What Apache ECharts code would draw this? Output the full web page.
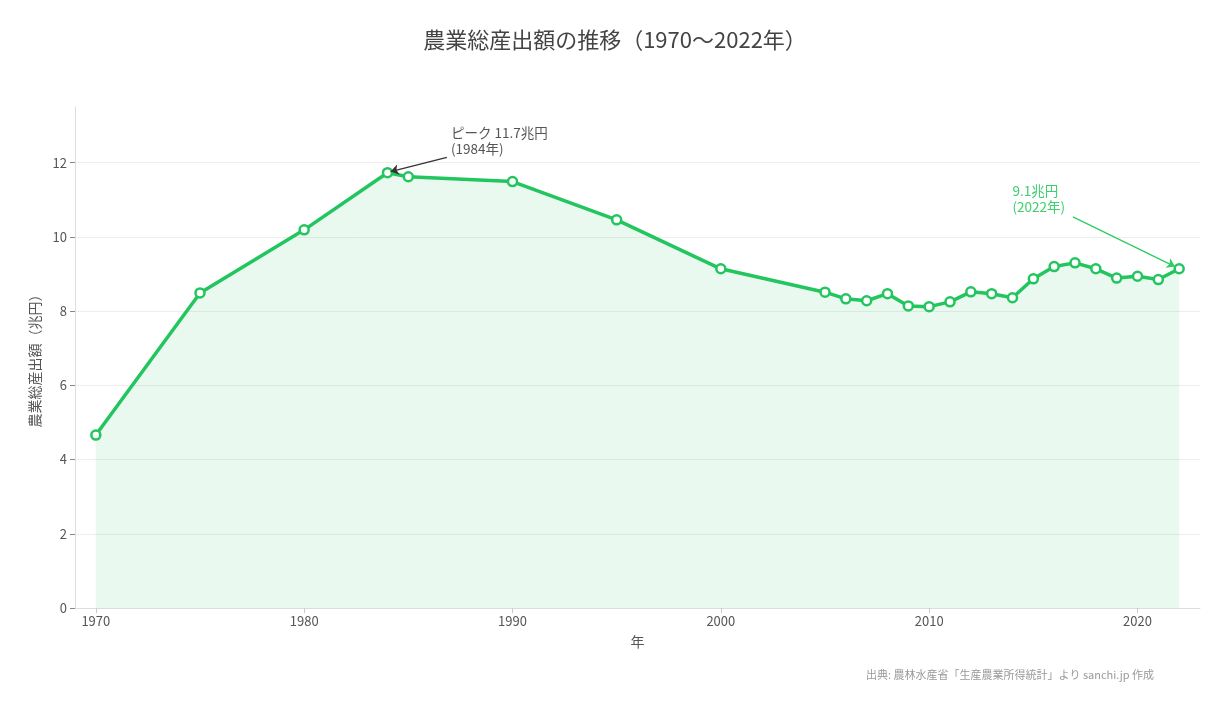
<!DOCTYPE html>
<html>
<head>
<meta charset="utf-8">
<script src="https://cdn.jsdelivr.net/npm/echarts@6/dist/echarts.min.js"></script>
<style>
  html, body { margin: 0; padding: 0; background: #fff; }
  #chart { width: 1230px; height: 710px; }
</style>
</head>
<body>
<div id="chart"></div>
<script>
// 年
var years = [1970, 1975, 1980, 1984, 1985, 1990, 1995, 2000,
    2005, 2006, 2007, 2008, 2009, 2010, 2011, 2012, 2013, 2014,
    2015, 2016, 2017, 2018, 2019, 2020, 2021, 2022];
// 農業総産出額（兆円）
var outputs = [4.66, 8.49, 10.19, 11.73, 11.62, 11.49, 10.46, 9.14,
    8.51, 8.33, 8.28, 8.47, 8.14, 8.12, 8.25, 8.52, 8.47, 8.36,
    8.87, 9.20, 9.30, 9.14, 8.89, 8.94, 8.85, 9.14];
// 目盛り
var xTicks = [1970, 1980, 1990, 2000, 2010, 2020];
var yTicks = [0, 2, 4, 6, 8, 10, 12];

var FONT = '"Noto Sans CJK JP", "Noto Sans", sans-serif';
var GREEN = '#22c55e';

var seriesData = years.map(function (y, i) { return [y, outputs[i]]; });

var option = {
    backgroundColor: '#fff',
    textStyle: { fontFamily: FONT },
    title: {
        text: '農業総産出額の推移（1970〜2022年）',
        left: 'center',
        top: 24,
        textStyle: { fontSize: 22, fontWeight: 'normal', color: '#444', fontFamily: FONT }
    },
    grid: { left: 75, right: 30, top: 107, bottom: 102 },
    xAxis: {
        type: 'value',
        min: 1969,
        max: 2023,
        name: '年',
        nameLocation: 'middle',
        nameGap: 27,
        nameTextStyle: { fontSize: 14, color: '#555' },
        axisLine: { show: true, lineStyle: { color: '#ddd' } },
        axisTick: { show: true, customValues: xTicks, length: 5, lineStyle: { color: '#ccc' } },
        axisLabel: {
            customValues: xTicks, color: '#555', fontSize: 13, margin: 7,
            formatter: function (v) { return String(v); }
        },
        splitLine: { show: false }
    },
    yAxis: {
        type: 'value',
        min: 0,
        max: 13.5,
        name: '農業総産出額（兆円）',
        nameLocation: 'middle',
        nameGap: 32,
        nameTextStyle: { fontSize: 14, color: '#555' },
        axisLine: { show: true, lineStyle: { color: '#ddd' } },
        axisTick: { show: true, customValues: yTicks, length: 5, lineStyle: { color: '#888' } },
        axisLabel: { customValues: yTicks, color: '#555', fontSize: 13, margin: 8 },
        splitLine: { show: true, lineStyle: { color: '#eee' } }
    },
    graphic: [{
        type: 'text',
        right: 76,
        bottom: 30,
        style: {
            text: '出典: 農林水産省「生産農業所得統計」より sanchi.jp 作成',
            fill: '#999',
            font: '11px ' + FONT
        }
    }],
    series: [{
        type: 'line',
        data: seriesData,
        symbol: 'circle',
        symbolSize: 9,
        showAllSymbol: true,
        lineStyle: { color: GREEN, width: 3.5 },
        itemStyle: { color: '#fff', borderColor: GREEN, borderWidth: 2.5 },
        areaStyle: { color: 'rgba(34,197,94,0.14)' },
        z: 3,
        markLine: {
            silent: true,
            symbol: ['none', 'arrow'],
            symbolSize: 8,
            label: { show: false },
            data: [
                [{ coord: [1986.85, 12.14], lineStyle: { color: '#333', width: 1.3, type: 'solid' } },
                 { coord: [1984.15, 11.76] }],
                [{ coord: [2016.9, 10.54], lineStyle: { color: '#2ecc62', width: 1.3, type: 'solid' } },
                 { coord: [2021.8, 9.2] }]
            ]
        },
        markPoint: {
            silent: true,
            symbol: 'circle',
            symbolSize: 0,
            data: [{
                coord: [1987.05, 13.03],
                label: {
                    show: true, position: [0, 0], align: 'left', verticalAlign: 'top',
                    formatter: 'ピーク 11.7兆円\n(1984年)', color: '#555', fontSize: 13.5, lineHeight: 16
                }
            }, {
                coord: [2014.0, 11.45],
                label: {
                    show: true, position: [0, 0], align: 'left', verticalAlign: 'top',
                    formatter: '9.1兆円\n(2022年)', color: '#3ccf6c', fontSize: 13.5, lineHeight: 16
                }
            }]
        }
    }]
};

var myEcharts = echarts.init(document.getElementById('chart'));
myEcharts.setOption(option);
</script>
</body>
</html>
